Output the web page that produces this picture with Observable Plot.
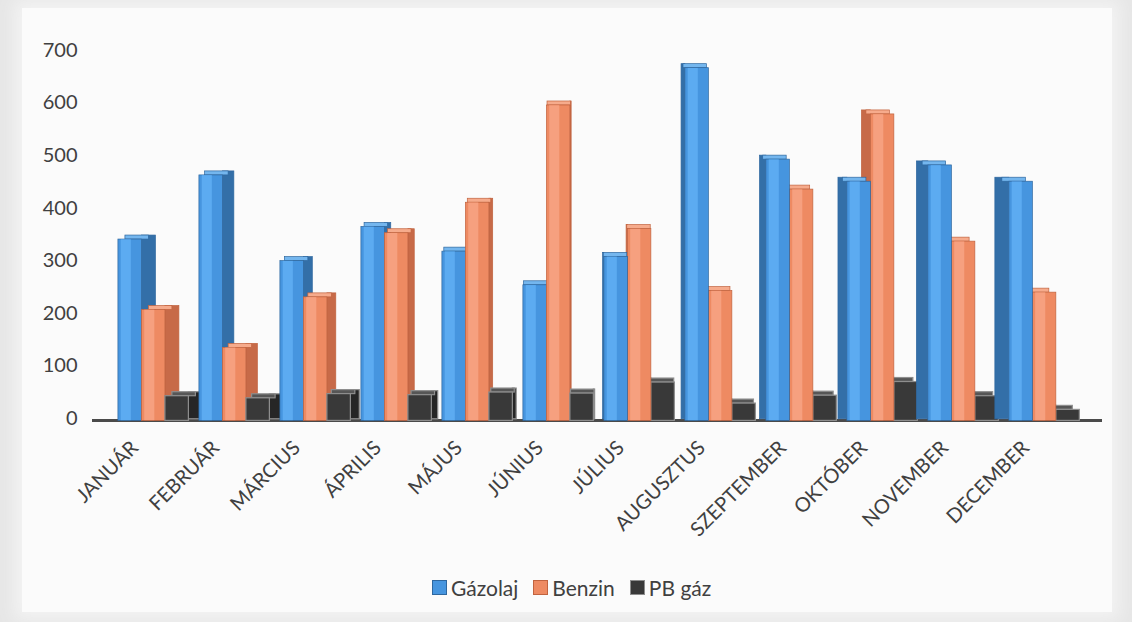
<!DOCTYPE html>
<html>
<head>
<meta charset="utf-8">
<script src="https://cdn.jsdelivr.net/npm/d3@7"></script>
<script src="https://cdn.jsdelivr.net/npm/@observablehq/plot@0.6"></script>
<style>
  html, body { margin: 0; padding: 0; }
  body {
    width: 1132px; height: 622px; position: relative; overflow: hidden;
    background: #e6e6e6; font-family: Lato, "Open Sans", sans-serif;
  }
  #panel {
    position: absolute; left: 22px; top: 8px; width: 1090px; height: 604px;
    background: #fbfbfb; box-shadow: 0 0 16px 8px #f3f3f3;
  }
  #chart { position: absolute; left: 0; top: 0; }
  #legend {
    position: absolute; left: 432px; top: 574px; height: 26px;
    display: flex; align-items: center; gap: 15px;
    font-size: 21px; color: #404040;
  }
  #legend .item { display: flex; align-items: center; gap: 4px; }
  #legend .sw { width: 15px; height: 15px; display: inline-block; }
</style>
</head>
<body>
<div id="panel"></div>
<div id="chart"></div>
<div id="legend"></div>
<script>
// Monthly fuel sales by product
const months = ["JANUÁR", "FEBRUÁR", "MÁRCIUS", "ÁPRILIS", "MÁJUS", "JÚNIUS",
                "JÚLIUS", "AUGUSZTUS", "SZEPTEMBER", "OKTÓBER", "NOVEMBER", "DECEMBER"];
const seriesNames = ["Gázolaj", "Benzin", "PB gáz"];
const gazolaj = [348, 470, 307, 372, 325, 261, 315, 674, 500, 458, 489, 458];
const benzin  = [214, 142, 238, 360, 418, 603, 368, 250, 443, 586, 344, 247];
const pbGaz   = [ 50,  46,  54,  52,  57,  55,  76,  36,  51,  77,  50,  24];
const yTicks  = [0, 100, 200, 300, 400, 500, 600, 700];

const values = {"Gázolaj": gazolaj, "Benzin": benzin, "PB gáz": pbGaz};

// Shading for each face of the pseudo-3D columns
const shades = {
  "Gázolaj": {front: "#4695df", light: "#5cabf1", side: "#336fa8", top: "#74b6ee", edge: "#2e679f"},
  "Benzin":  {front: "#ee8a62", light: "#f6a07f", side: "#c76a48", top: "#f6ab8c", edge: "#c1633f"},
  "PB gáz":  {front: "#393939", light: "#393939", side: "#262626", top: "#565656", edge: "#8e8e8e"}
};

// Column geometry in x-scale units (one unit per month)
const unitPx = 81;
const barW = 0.29;
const offsets = {"Gázolaj": -0.40, "Benzin": -0.11, "PB gáz": 0.18};
const depthU = 14 / unitPx;
const topU = 4 * 700 / 368;

const faces = [];
months.forEach((m, i) => {
  const s = depthU * (5.5 - i) / 5.5;        // perspective: sides on the right, then on the left
  const order = s > 0 ? seriesNames : [...seriesNames].reverse();
  for (const name of order) {
    const v = values[name][i];
    const c = shades[name];
    const x0 = i + offsets[name], x1 = x0 + barW;
    const isBox = name === "PB gáz";
    const ew = isBox ? 1.2 : 0.7;
    const base = -topU * 0.6;
    // side face
    if (s > 0) faces.push({x1: x1, x2: x1 + s, y1: base + topU * 0.4, y2: v, fill: c.side, stroke: c.edge, sw: ew});
    else faces.push({x1: x0 + s, x2: x0, y1: base + topU * 0.4, y2: v, fill: c.side, stroke: c.edge, sw: ew});
    // top face
    faces.push({x1: x0 + s / 2, x2: x1 + s / 2, y1: v - topU, y2: v, fill: c.top, stroke: c.edge, sw: ew});
    // front face
    faces.push({x1: x0, x2: x1, y1: base, y2: v - topU, fill: c.front, stroke: c.edge, sw: ew});
    // soft highlight on the front face
    if (!isBox) faces.push({x1: x0 + barW * 0.12, x2: x0 + barW * 0.55, y1: base + 0.5, y2: v - topU - 0.5, fill: c.light, stroke: "none", sw: 0});
  }
});

const chart = Plot.plot({
  width: 1132,
  height: 548,
  marginLeft: 92,
  marginRight: 30,
  marginTop: 50,
  marginBottom: 130,
  style: {background: "transparent", fontFamily: "Lato, 'Open Sans', sans-serif", color: "#404040"},
  x: {domain: [-0.72, 11.75], axis: null},
  y: {domain: [0, 700], axis: null},
  color: {type: "identity"},
  marks: [
    Plot.ruleY([0], {stroke: "#4a4a4a", strokeWidth: 3, dy: 2}),
    Plot.rect(faces, {x1: "x1", x2: "x2", y1: "y1", y2: "y2", fill: "fill", stroke: "stroke", strokeWidth: "sw"}),
    Plot.axisY(yTicks, {tickSize: 0, tickPadding: 15, fontSize: 20, fill: "#404040"}),
    Plot.axisX(d3.range(months.length), {
      tickFormat: i => months[i], tickRotate: -45, tickSize: 0, tickPadding: 26,
      dx: -16, fontSize: 20, fill: "#404040"
    })
  ]
});
document.getElementById("chart").appendChild(chart);

// Legend
const legend = document.getElementById("legend");
seriesNames.forEach(name => {
  const item = document.createElement("span");
  item.className = "item";
  const sw = document.createElement("span");
  sw.className = "sw";
  sw.style.background = shades[name].front;
  sw.style.border = "1px solid " + shades[name].edge;
  sw.style.boxSizing = "border-box";
  const label = document.createElement("span");
  label.textContent = name;
  item.append(sw, label);
  legend.appendChild(item);
});
</script>
</body>
</html>
